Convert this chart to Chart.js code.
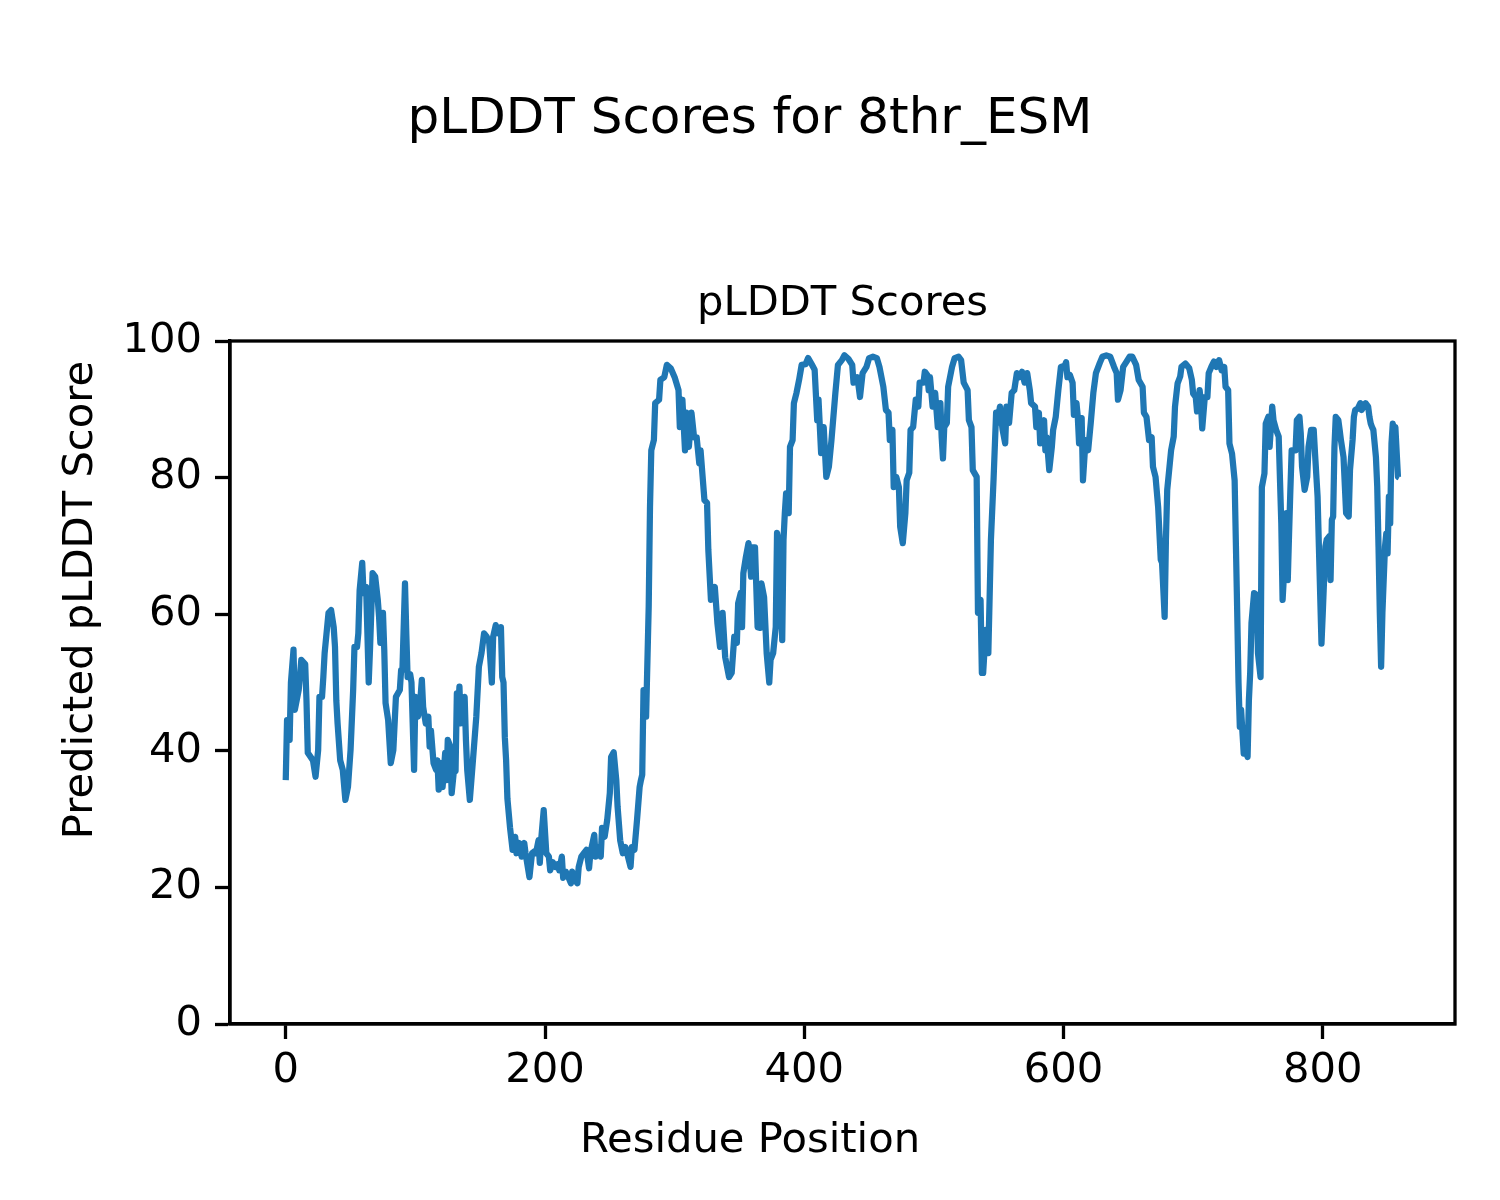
<!DOCTYPE html>
<html>
<head>
<meta charset="utf-8">
<script src="https://cdn.jsdelivr.net/npm/chart.js@4.4.1/dist/chart.umd.min.js"></script>
<style>
  html, body { margin: 0; padding: 0; background: #fff; }
  canvas { display: block; }
</style>
</head>
<body>
<canvas id="plddtChart" width="1500" height="1200"></canvas>
<script>
const figTitle = 'pLDDT Scores for 8thr_ESM';
const axTitle = 'pLDDT Scores';
const xLabel = 'Residue Position';
const yLabel = 'Predicted pLDDT Score';

const xTicks = [0, 200, 400, 600, 800];
const yTicks = [0, 20, 40, 60, 80, 100];

// residue index and score
const residuePos = [
  0, 1, 3, 4, 6, 7, 10, 12, 15, 16, 17, 21, 23, 25, 26, 28, 29, 30, 33, 35,
  37, 38, 39, 40, 42, 44, 46, 48, 50, 52, 53, 55, 56, 57, 59, 60, 62, 63, 64, 65,
  67, 69, 71, 72, 73, 75, 76, 77, 79, 81, 83, 84, 85, 88, 89, 90, 92, 93, 94, 96,
  97, 99, 100, 102, 104, 105, 106, 108, 110, 111, 112, 114, 116, 117, 118, 120, 121, 123, 124, 125,
  127, 128, 130, 131, 132, 133, 134, 135, 138, 139, 140, 142, 144, 147, 149, 151, 153, 155, 157, 159,
  160, 162, 164, 166, 167, 168, 169, 170, 171, 173, 175, 177, 178, 180, 182, 184, 185, 188, 190, 192,
  193, 195, 196, 197, 199, 201, 203, 204, 206, 208, 210, 211, 213, 214, 216, 218, 220, 221, 223, 225,
  226, 228, 230, 232, 234, 235, 238, 239, 241, 243, 244, 246, 248, 250, 251, 253, 255, 256, 258, 260,
  262, 264, 266, 267, 269, 271, 273, 274, 275, 276, 278, 280, 281, 282, 284, 285, 288, 289, 292, 294,
  297, 300, 303, 304, 306, 308, 309, 311, 313, 315, 317, 319, 320, 323, 325, 326, 328, 331, 333, 335,
  337, 339, 342, 344, 346, 348, 349, 351, 352, 353, 355, 357, 359, 360, 362, 364, 366, 367, 369, 371,
  373, 374, 376, 378, 379, 381, 383, 384, 385, 386, 388, 389, 391, 392, 394, 396, 398, 401, 403, 406,
  408, 410, 411, 413, 415, 417, 419, 421, 424, 426, 429, 431, 434, 437, 438, 441, 443, 445, 448, 450,
  453, 456, 458, 461, 463, 465, 466, 468, 469, 471, 473, 474, 476, 478, 479, 481, 482, 484, 486, 488,
  489, 492, 493, 495, 496, 497, 499, 501, 503, 505, 506, 507, 508, 510, 511, 514, 516, 519, 521, 523,
  526, 527, 529, 530, 533, 534, 536, 537, 538, 540, 542, 543, 544, 546, 548, 549, 551, 553, 555, 556,
  558, 560, 562, 564, 566, 568, 570, 572, 574, 575, 578, 579, 581, 582, 585, 586, 587, 589, 591, 592,
  594, 596, 598, 601, 602, 603, 605, 607, 608, 610, 611, 612, 614, 615, 617, 619, 621, 623, 625, 628,
  630, 633, 636, 639, 641, 642, 644, 646, 648, 651, 653, 656, 658, 661, 662, 664, 666, 668, 669, 671,
  673, 675, 676, 678, 679, 680, 683, 685, 686, 688, 690, 691, 694, 697, 699, 700, 702, 703, 705, 706,
  707, 709, 711, 712, 714, 716, 718, 720, 722, 724, 725, 727, 728, 730, 732, 733, 734, 735, 736, 737,
  739, 740, 742, 743, 744, 745, 747, 749, 750, 752, 753, 755, 756, 758, 759, 761, 762, 764, 766, 767,
  768, 769, 771, 772, 773, 774, 775, 776, 779, 780, 782, 783, 784, 786, 788, 789, 791, 793, 794, 796,
  797, 799, 800, 802, 803, 805, 806, 807, 808, 809, 810, 812, 813, 814, 816, 818, 820, 821, 823, 824,
  825, 827, 829, 830, 833, 835, 836, 837, 838, 839, 841, 842, 843, 844, 845, 846, 848, 849, 850, 851,
  852, 853, 854, 855, 856, 858, 859
];

const plddtScore = [
  35.7, 44.5, 41.6, 50.0, 54.8, 46.0, 48.9, 53.3, 52.7, 47.4, 39.7, 38.6, 36.2, 40.1, 47.9, 47.9, 50.8, 54.3, 60.2, 60.6,
  58.1, 55.2, 47.4, 44.0, 38.6, 37.2, 32.8, 34.7, 40.1, 48.9, 55.2, 55.2, 57.2, 63.5, 67.5, 63.1, 64.0, 57.2, 50.0, 54.8,
  66.0, 65.5, 62.1, 59.6, 55.8, 60.2, 54.8, 47.0, 44.5, 38.2, 40.1, 44.0, 47.9, 48.9, 51.8, 51.8, 64.5, 57.2, 50.8, 51.2,
  50.0, 37.2, 47.9, 45.0, 47.9, 50.4, 46.4, 44.0, 45.0, 40.6, 43.0, 38.2, 37.2, 38.6, 34.3, 38.2, 34.7, 39.7, 35.7, 41.6,
  40.6, 33.8, 37.6, 37.0, 48.4, 46.0, 49.4, 44.0, 47.9, 41.6, 37.2, 32.8, 37.6, 45.0, 52.3, 54.3, 57.2, 56.7, 55.8, 50.0,
  56.7, 58.4, 57.2, 58.1, 50.8, 50.0, 42.0, 38.6, 33.0, 28.8, 25.5, 27.4, 25.0, 26.5, 24.5, 26.5, 25.0, 21.5, 25.0, 25.3,
  25.0, 26.9, 23.6, 26.9, 31.3, 25.0, 24.5, 22.5, 23.7, 23.0, 23.4, 22.5, 24.5, 21.4, 22.3, 21.5, 20.6, 22.3, 21.1, 20.6,
  23.0, 24.5, 25.0, 25.5, 22.8, 25.0, 27.7, 24.5, 25.9, 24.5, 28.7, 27.4, 29.9, 33.8, 39.1, 39.8, 35.7, 31.8, 26.9, 25.0,
  25.9, 24.5, 23.0, 25.9, 25.5, 29.9, 34.7, 35.7, 36.5, 48.9, 45.0, 61.1, 75.7, 84.0, 85.5, 90.9, 91.4, 94.3, 94.7, 96.5,
  96.0, 94.7, 92.8, 87.4, 91.4, 84.0, 89.5, 84.5, 89.5, 85.9, 85.9, 82.1, 84.0, 76.7, 76.3, 69.4, 62.1, 64.0, 58.7, 55.2,
  60.2, 53.7, 50.8, 51.4, 56.7, 55.8, 61.6, 63.1, 58.1, 66.0, 68.4, 70.4, 65.5, 69.8, 69.8, 58.1, 58.0, 64.5, 62.5, 54.3,
  50.0, 53.3, 54.3, 58.1, 71.9, 69.8, 56.2, 70.9, 74.8, 77.7, 74.8, 84.5, 85.5, 90.9, 92.4, 94.3, 96.5, 96.6, 97.5, 96.5,
  95.8, 88.4, 91.4, 83.6, 87.4, 80.1, 81.6, 85.5, 92.4, 96.5, 97.2, 97.9, 97.4, 96.5, 93.9, 94.7, 91.8, 95.3, 96.2, 97.5,
  97.7, 97.5, 96.2, 93.3, 89.9, 89.5, 85.5, 87.0, 78.6, 80.1, 78.6, 72.8, 70.4, 74.8, 79.6, 80.7, 87.0, 87.4, 91.4, 90.4,
  93.9, 93.9, 95.5, 95.0, 92.8, 94.7, 90.4, 92.4, 87.4, 90.9, 85.9, 82.8, 87.4, 88.0, 93.3, 96.2, 97.5, 97.7, 97.2, 93.9,
  92.8, 88.4, 87.4, 81.1, 80.1, 60.2, 62.1, 51.4, 51.4, 57.7, 54.3, 62.5, 70.9, 79.6, 89.5, 88.0, 90.4, 87.0, 85.0, 90.4,
  88.0, 92.4, 92.8, 95.3, 94.7, 95.5, 93.9, 95.3, 92.8, 90.9, 90.4, 87.4, 89.5, 85.0, 88.4, 84.0, 85.9, 81.1, 84.5, 87.0,
  88.9, 92.8, 96.2, 96.4, 96.9, 94.7, 95.0, 93.9, 89.2, 90.9, 88.9, 85.0, 88.7, 79.6, 85.5, 84.0, 88.0, 92.4, 95.3, 96.8,
  97.7, 97.9, 97.7, 96.2, 95.3, 91.4, 92.8, 96.2, 96.8, 97.7, 97.7, 96.5, 94.3, 93.3, 89.5, 88.9, 85.5, 85.9, 81.6, 80.1,
  75.7, 68.0, 67.5, 59.6, 70.9, 78.2, 84.0, 86.0, 90.4, 93.8, 94.8, 96.2, 96.7, 96.0, 94.3, 92.3, 91.8, 89.7, 92.8, 90.9,
  87.2, 91.8, 91.8, 95.3, 96.2, 97.0, 96.2, 97.2, 95.7, 96.2, 93.3, 92.8, 85.0, 83.5, 79.6, 70.0, 60.2, 50.0, 43.5, 46.0,
  39.6, 40.6, 39.1, 47.4, 51.4, 58.7, 63.1, 62.8, 54.3, 50.8, 78.6, 80.6, 87.9, 88.9, 84.5, 90.4, 88.4, 87.0, 86.0, 79.6,
  73.3, 62.1, 68.9, 74.8, 65.0, 71.8, 78.2, 84.0, 84.0, 88.4, 88.9, 86.5, 81.6, 78.2, 80.1, 84.5, 87.0, 87.0, 83.6, 77.2,
  69.9, 55.7, 60.2, 69.9, 70.9, 71.4, 65.0, 73.8, 74.3, 84.5, 88.9, 88.4, 87.0, 85.5, 83.0, 74.8, 74.3, 81.1, 85.5, 88.9,
  89.9, 90.1, 90.9, 89.9, 90.9, 90.4, 88.9, 87.9, 87.4, 87.0, 83.0, 78.7, 69.9, 60.2, 52.3, 60.2, 69.9, 71.8, 68.9, 77.2,
  73.3, 85.0, 87.9, 86.5, 87.4, 80.1, 80.0
];

const FONT = 'DejaVu Sans';
const tickFont = { family: FONT, size: 41.7 };

// figure-level texts and the closed axes box
const figureText = {
  id: 'figureText',
  afterDraw(chart) {
    const { ctx, chartArea: a } = chart;
    ctx.save();
    ctx.strokeStyle = '#000';
    ctx.lineWidth = 3.3;
    ctx.strokeRect(a.left, a.top, a.right - a.left, a.bottom - a.top);

    ctx.fillStyle = '#000';
    ctx.textAlign = 'center';
    ctx.textBaseline = 'alphabetic';
    ctx.font = `50px "${FONT}"`;
    ctx.fillText(figTitle, 750, 133);

    ctx.font = `41.7px "${FONT}"`;
    ctx.fillText(axTitle, (a.left + a.right) / 2, 315);
    ctx.fillText(xLabel, 750, 1152);

    ctx.translate(92, 600);
    ctx.rotate(-Math.PI / 2);
    ctx.fillText(yLabel, 0, 0);
    ctx.restore();
  }
};

const points = residuePos.map((x, i) => ({ x, y: plddtScore[i] }));

new Chart(document.getElementById('plddtChart'), {
  type: 'line',
  data: {
    datasets: [{
      data: points,
      borderColor: '#1f77b4',
      borderWidth: 6.25,
      borderJoinStyle: 'round',
      pointRadius: 0,
      tension: 0,
      fill: false
    }]
  },
  options: {
    responsive: false,
    devicePixelRatio: 1,
    animation: false,
    layout: { padding: { left: 0, right: 45, top: 341, bottom: 0 } },
    plugins: {
      legend: { display: false },
      tooltip: { enabled: false },
      title: { display: false }
    },
    scales: {
      x: {
        type: 'linear',
        min: -43,
        max: 902,
        afterFit: s => { s.height = 176; },
        afterBuildTicks: s => { s.ticks = xTicks.map(v => ({ value: v })); },
        grid: { drawOnChartArea: false, drawTicks: true, tickLength: 15, tickWidth: 3.3, tickColor: '#000' },
        border: { display: true, color: '#000', width: 3.3 },
        ticks: { color: '#000', font: tickFont, padding: 7, maxRotation: 0 }
      },
      y: {
        type: 'linear',
        min: 0,
        max: 100,
        afterFit: s => { s.width = 230; },
        afterBuildTicks: s => { s.ticks = yTicks.map(v => ({ value: v })); },
        grid: { drawOnChartArea: false, drawTicks: true, tickLength: 15, tickWidth: 3.3, tickColor: '#000' },
        border: { display: true, color: '#000', width: 3.3 },
        ticks: { color: '#000', font: tickFont, padding: 13 }
      }
    }
  },
  plugins: [figureText]
});
</script>
</body>
</html>
